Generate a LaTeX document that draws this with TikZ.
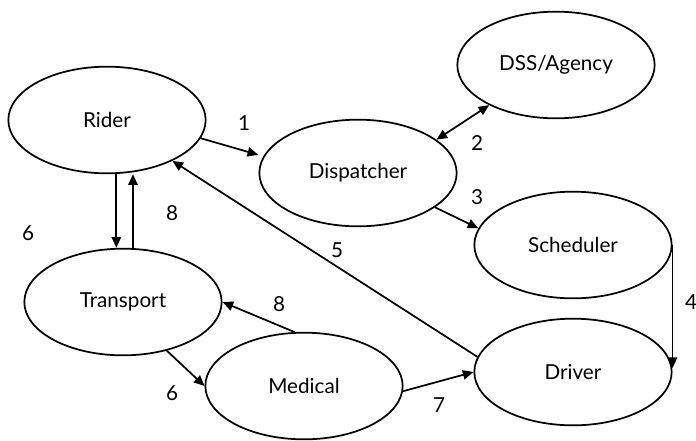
\documentclass[tikz,border=0pt]{standalone}
\usepackage{fontspec}
\setmainfont{Lato}
\usetikzlibrary{arrows.meta, shapes.geometric}

\begin{document}
\begin{tikzpicture}[x=0.75pt, y=-0.75pt,
  every node/.style={font=\fontsize{15.5}{18}\selectfont},
  actor/.style={draw, ellipse, line width=1.3pt, minimum width=148pt, minimum height=80pt, inner sep=0pt},
  flow/.style={-{Triangle[length=8pt, width=7pt]}, line width=1.3pt},
  both/.style={{Triangle[length=8pt, width=7pt]}-{Triangle[length=8pt, width=7pt]}, line width=1.3pt}]
\useasboundingbox (0,0) rectangle (696,440);
\node[actor] (rider) at (107,120) {Rider};
\node[actor] (dss) at (556,65) {DSS/Agency};
\node[actor] (dispatcher) at (358,173) {Dispatcher};
\node[actor] (scheduler) at (573,245) {Scheduler};
\node[actor] (transport) at (123,302) {Transport};
\node[actor] (medical) at (304,386) {Medical};
\node[actor] (driver) at (573,372) {Driver};
\draw[flow, shorten >=4pt] (rider.-11) -- (dispatcher.170);
\draw[both] (dss.211) -- (dispatcher.23);
\draw[flow] (dispatcher.-24) -- (scheduler.170);
\draw[flow] (scheduler.east) -- ([yshift=3pt]driver.east);
\draw[flow] (driver.171) -- (rider.-32);
\draw[flow] ([xshift=7pt]rider.south) -- ([xshift=7pt]rider.south |- transport.north);
\draw[flow] ([xshift=7.5pt]transport.north) -- ([xshift=7.5pt]transport.north |- rider.south);
\draw[flow] (medical.100) -- (transport.east);
\draw[flow] (transport.-48) -- (medical.west);
\draw[flow] (medical.-3) -- (driver.west);
\foreach \x/\y/\val/\nm in {244/123/1/a, 477/143/2/b, 477/197/3/c, 691/302/4/d, 337/250/5/e, 28/233/6/f, 172/213/8/g, 279/304/8/h, 172/393/6/i, 439/405/7/j} {
\node (lbl\nm) at (\x,\y) {\val};
}
\end{tikzpicture}
\end{document}
